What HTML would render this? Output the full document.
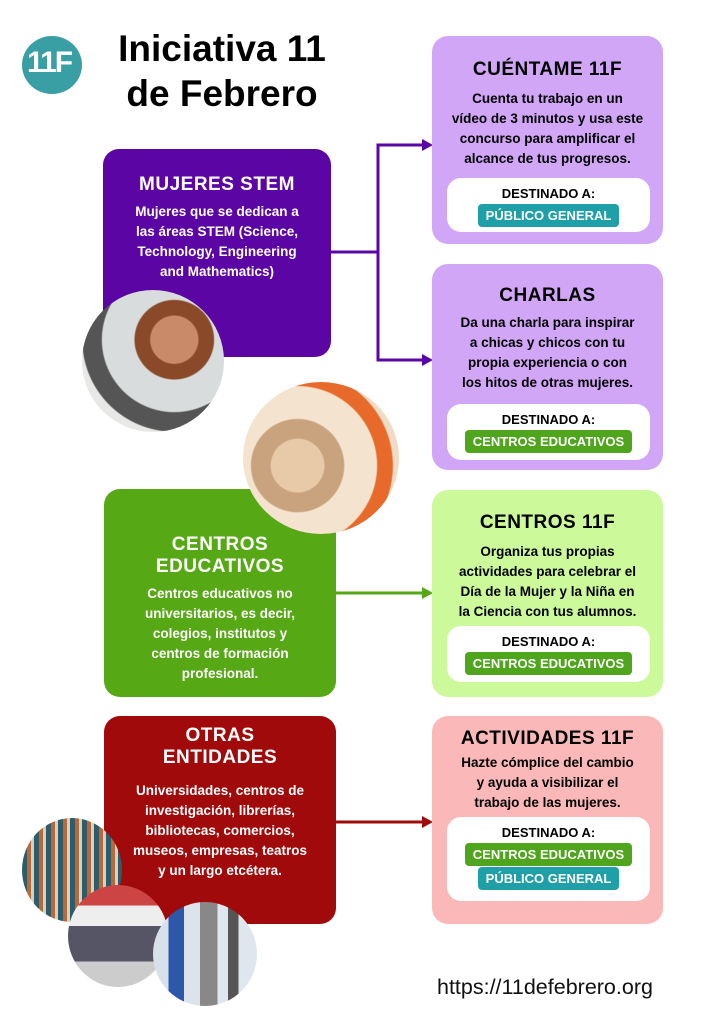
<!DOCTYPE html>
<html><head><meta charset="utf-8"><style>
body{margin:0;width:724px;height:1024px;background:#fff;position:relative;overflow:hidden;font-family:"Liberation Sans",sans-serif;font-weight:bold}
.a{position:absolute}
.box{position:absolute;border-radius:16px;text-align:center}
.t{font-size:19px;letter-spacing:0.5px}
.p{font-size:13.5px;line-height:20px}
.in{position:absolute;background:#fff;border-radius:14px;left:15px;right:13px;text-align:center;font-size:13px}
.pill{display:inline-block;color:#fff;font-size:13px;padding:4px 8px;border-radius:4px;margin-top:3px}
.teal{background:#1fa0a8}.grn{background:#4fa51b}
.c{position:absolute;border-radius:50%}
</style></head><body>
<div class="c" style="left:22px;top:36px;width:60px;height:58px;background:#3a9ea5"></div>
<div class="a" style="left:27px;top:46px;color:#fff;font-size:30px;letter-spacing:-2px">11F</div>
<div class="a" style="left:97px;top:26px;font-size:37px;line-height:45px;text-align:center;width:250px">Iniciativa 11<br>de Febrero</div>

<svg class="a" style="left:0;top:0" width="724" height="1024">
<path d="M331 252H378V145H424M378 252V360H424" fill="none" stroke="#5b05a5" stroke-width="3"/>
<path d="M422 139L433 145L422 151Z M422 354L433 360L422 366Z" fill="#5b05a5"/>
<path d="M336 593H424" stroke="#56a814" stroke-width="3"/><path d="M422 587L433 593L422 599Z" fill="#56a814"/>
<path d="M336 822H424" stroke="#a10a0a" stroke-width="3"/><path d="M422 816L433 822L422 828Z" fill="#a10a0a"/>
</svg>

<div class="box" style="left:432px;top:36px;width:231px;height:208px;background:#d2a6f7">
<div class="t" style="margin-top:23px">CUÉNTAME 11F</div>
<div class="p" style="margin-top:8px">Cuenta tu trabajo en un<br>vídeo de 3 minutos y usa este<br>concurso para amplificar el<br>alcance de tus progresos.</div>
<div class="in" style="top:142px;height:54px;padding-top:8px;box-sizing:border-box">DESTINADO A:<br><span class="pill teal">PÚBLICO GENERAL</span></div></div>

<div class="box" style="left:432px;top:264px;width:231px;height:206px;background:#d2a6f7">
<div class="t" style="margin-top:21px">CHARLAS</div>
<div class="p" style="margin-top:6px">Da una charla para inspirar<br>a chicas y chicos con tu<br>propia experiencia o con<br>los hitos de otras mujeres.</div>
<div class="in" style="top:140px;height:56px;padding-top:8px;box-sizing:border-box">DESTINADO A:<br><span class="pill grn">CENTROS EDUCATIVOS</span></div></div>

<div class="box" style="left:432px;top:490px;width:231px;height:207px;background:#ccf99a">
<div class="t" style="margin-top:22px">CENTROS 11F</div>
<div class="p" style="margin-top:8px">Organiza tus propias<br>actividades para celebrar el<br>Día de la Mujer y la Niña en<br>la Ciencia con tus alumnos.</div>
<div class="in" style="top:136px;height:56px;padding-top:8px;box-sizing:border-box">DESTINADO A:<br><span class="pill grn">CENTROS EDUCATIVOS</span></div></div>

<div class="box" style="left:432px;top:716px;width:231px;height:208px;background:#fbb8b8">
<div class="t" style="margin-top:12px">ACTIVIDADES 11F</div>
<div class="p" style="margin-top:3px">Hazte cómplice del cambio<br>y ayuda a visibilizar el<br>trabajo de las mujeres.</div>
<div class="in" style="top:101px;height:84px;padding-top:8px;box-sizing:border-box">DESTINADO A:<br><span class="pill grn">CENTROS EDUCATIVOS</span><br><span class="pill teal" style="margin-top:1px">PÚBLICO GENERAL</span></div></div>

<div class="box" style="left:103px;top:149px;width:228px;height:208px;background:#5b05a5;color:#fff">
<div class="t" style="margin-top:25px">MUJERES STEM</div>
<div class="p" style="margin-top:6px">Mujeres que se dedican a<br>las áreas STEM (Science,<br>Technology, Engineering<br>and Mathematics)</div></div>

<div class="box" style="left:104px;top:489px;width:232px;height:208px;background:#56a814;color:#fff">
<div class="t" style="margin-top:45px;line-height:22px">CENTROS<br>EDUCATIVOS</div>
<div class="p" style="margin-top:6px;line-height:20px">Centros educativos no<br>universitarios, es decir,<br>colegios, institutos y<br>centros de formación<br>profesional.</div></div>

<div class="box" style="left:104px;top:716px;width:232px;height:208px;background:#a10a0a;color:#fff">
<div class="t" style="margin-top:9px;line-height:22px">OTRAS<br>ENTIDADES</div>
<div class="p" style="margin-top:12px">Universidades, centros de<br>investigación, librerías,<br>bibliotecas, comercios,<br>museos, empresas, teatros<br>y un largo etcétera.</div></div>

<div class="c" style="left:82px;top:290px;width:142px;height:142px;background:radial-gradient(circle at 65% 35%,#c98a6a 0 18%,#8a4a2a 19% 30%,#d9dcdc 31% 55%,#555 56% 70%,#e8e8e6 71%)"></div>
<div class="c" style="left:243px;top:382px;width:156px;height:152px;background:radial-gradient(circle at 35% 55%,#e8c9a8 0 20%,#c9a27e 21% 35%,#f3e3cf 36% 60%,#e86a2a 61% 72%,#f0dcc6 73%)"></div>
<div class="c" style="left:22px;top:818px;width:100px;height:104px;background:repeating-linear-gradient(90deg,#2d5d6b 0 5px,#b46a3a 5px 9px,#d8d0c0 9px 12px)"></div>
<div class="c" style="left:68px;top:885px;width:100px;height:102px;background:linear-gradient(#c44 0 20%,#eee 20% 40%,#556 40% 75%,#ccc 75%)"></div>
<div class="c" style="left:153px;top:902px;width:104px;height:104px;background:linear-gradient(90deg,#d8e0ea 0 15%,#2d57a8 15% 30%,#dde3ea 30% 45%,#888 45% 62%,#e0e6ee 62% 72%,#555 72% 82%,#e0e6ee 82%)"></div>

<div class="a" style="left:437px;top:975px;font-size:21.5px;font-weight:normal;color:#111">https://11defebrero.org</div>
</body></html>
